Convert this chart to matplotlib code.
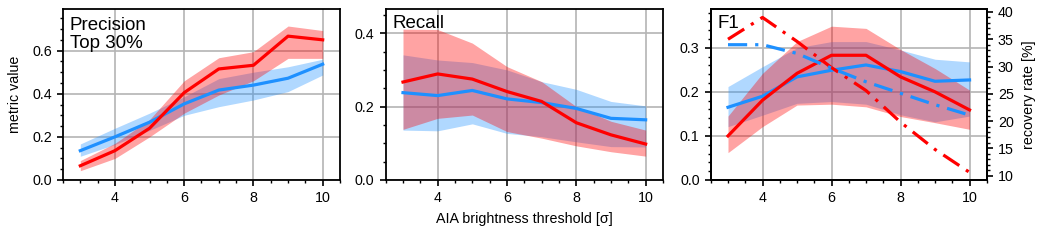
import numpy as np
import matplotlib
matplotlib.use("Agg")
import matplotlib.pyplot as plt
from matplotlib.ticker import MultipleLocator

plt.rcParams['font.family'] = ['Liberation Sans', 'DejaVu Sans']
plt.rcParams['font.size'] = 10.3

RED = '#ff0000'
BLUE = '#1e90ff'

thresholds = [3, 4, 5, 6, 7, 8, 9, 10]

# precision, top 30%
prec_red = [0.066, 0.136, 0.24, 0.405, 0.515, 0.532, 0.667, 0.65]
prec_red_lo = [0.043, 0.10, 0.20, 0.31, 0.394, 0.46, 0.564, 0.564]
prec_red_hi = [0.09, 0.17, 0.28, 0.46, 0.567, 0.595, 0.714, 0.693]
prec_blue = [0.136, 0.20, 0.268, 0.353, 0.417, 0.44, 0.472, 0.537]
prec_blue_lo = [0.11, 0.165, 0.23, 0.30, 0.34, 0.371, 0.41, 0.487]
prec_blue_hi = [0.167, 0.24, 0.31, 0.386, 0.47, 0.50, 0.525, 0.56]

# recall
rec_red = [0.267, 0.289, 0.275, 0.241, 0.214, 0.156, 0.123, 0.098]
rec_red_lo = [0.138, 0.168, 0.177, 0.132, 0.114, 0.093, 0.077, 0.065]
rec_red_hi = [0.411, 0.41, 0.373, 0.309, 0.268, 0.20, 0.16, 0.136]
rec_blue = [0.238, 0.23, 0.244, 0.221, 0.211, 0.195, 0.168, 0.164]
rec_blue_lo = [0.136, 0.134, 0.153, 0.127, 0.118, 0.104, 0.091, 0.09]
rec_blue_hi = [0.341, 0.327, 0.32, 0.30, 0.268, 0.247, 0.214, 0.202]

# F1
f1_red = [0.10, 0.181, 0.242, 0.283, 0.283, 0.234, 0.20, 0.159]
f1_red_lo = [0.062, 0.121, 0.17, 0.172, 0.166, 0.144, 0.13, 0.115]
f1_red_hi = [0.145, 0.242, 0.314, 0.349, 0.344, 0.296, 0.253, 0.204]
f1_blue = [0.165, 0.19, 0.234, 0.249, 0.261, 0.246, 0.224, 0.227]
f1_blue_lo = [0.121, 0.147, 0.174, 0.178, 0.172, 0.148, 0.132, 0.145]
f1_blue_hi = [0.212, 0.257, 0.30, 0.314, 0.314, 0.295, 0.274, 0.268]

# recovery rate [%] (right axis)
recov_red = [35.0, 39.0, 34.6, 29.8, 25.6, 19.8, 14.8, 10.6]
recov_blue = [34.0, 34.0, 32.4, 29.7, 27.2, 25.1, 23.0, 21.1]


def style_axis(ax, ymax, ymajor, yminor):
    ax.set_xlim(2.5, 10.5)
    ax.set_ylim(0, ymax)
    ax.xaxis.set_major_locator(MultipleLocator(2))
    ax.xaxis.set_minor_locator(MultipleLocator(0.5))
    ax.yaxis.set_major_locator(MultipleLocator(ymajor))
    ax.yaxis.set_minor_locator(MultipleLocator(yminor))
    ax.tick_params(which='major', direction='out', length=4.5, width=1.2,
                   top=False, right=False)
    ax.tick_params(which='minor', direction='out', length=2.5, width=1.0,
                   top=False, right=False)
    ax.grid(True, which='major', color='#b4b4b4', linewidth=1.2)
    ax.set_axisbelow(True)
    for s in ax.spines.values():
        s.set_linewidth(1.3)


def draw(ax, red, red_lo, red_hi, blue, blue_lo, blue_hi):
    ax.fill_between(thresholds, blue_lo, blue_hi, color=BLUE, alpha=0.35, lw=0)
    ax.fill_between(thresholds, red_lo, red_hi, color=RED, alpha=0.36, lw=0)
    ax.plot(thresholds, blue, color=BLUE, lw=2.3)
    ax.plot(thresholds, red, color=RED, lw=2.3)


fig = plt.figure(figsize=(10.5, 2.43), dpi=100)
ax1 = fig.add_axes([0.060, 0.2593, 0.2638, 0.7037])
ax2 = fig.add_axes([0.3673, 0.2593, 0.2641, 0.7037])
ax3 = fig.add_axes([0.6769, 0.2593, 0.2629, 0.7037])

draw(ax1, prec_red, prec_red_lo, prec_red_hi, prec_blue, prec_blue_lo, prec_blue_hi)
style_axis(ax1, 0.793, 0.2, 0.05)
ax1.set_ylabel('metric value', labelpad=7)
ax1.text(0.025, 0.955, 'Precision\nTop 30%', transform=ax1.transAxes,
         ha='left', va='top', fontsize=13.5, linespacing=1.12)

draw(ax2, rec_red, rec_red_lo, rec_red_hi, rec_blue, rec_blue_lo, rec_blue_hi)
style_axis(ax2, 0.466, 0.2, 0.05)
ax2.set_xlabel('AIA brightness threshold [σ]', labelpad=5)
ax2.text(0.025, 0.965, 'Recall', transform=ax2.transAxes,
         ha='left', va='top', fontsize=13.5)

draw(ax3, f1_red, f1_red_lo, f1_red_hi, f1_blue, f1_blue_lo, f1_blue_hi)
style_axis(ax3, 0.388, 0.1, 0.02)
ax3.text(0.025, 0.965, 'F1', transform=ax3.transAxes,
         ha='left', va='top', fontsize=13.5)

ax3r = ax3.twinx()
ax3r.plot(thresholds, recov_red, color=RED, lw=2.3, linestyle=(0, (6, 2.5, 1, 2.5)))
ax3r.plot(thresholds, recov_blue, color=BLUE, lw=2.3, linestyle=(0, (6, 2.5, 1, 2.5)))
ax3r.set_ylim(9.2, 40.55)
ax3r.yaxis.set_major_locator(MultipleLocator(5))
ax3r.yaxis.set_minor_locator(MultipleLocator(1))
ax3r.tick_params(which='major', direction='out', length=4.5, width=1.2)
ax3r.tick_params(which='minor', direction='out', length=2.5, width=1.0)
ax3r.set_ylabel('recovery rate [%]', labelpad=6)
for s in ax3r.spines.values():
    s.set_linewidth(1.3)

fig.savefig('out.png', dpi=100)
